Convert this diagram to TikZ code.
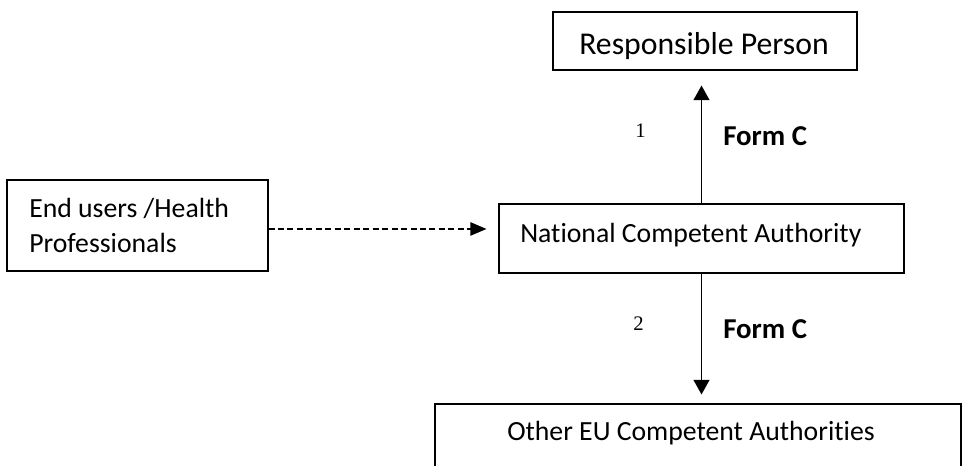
\documentclass[tikz,border=0pt]{standalone}
\usepackage{fontspec}
\setmainfont{Carlito}[Ligatures=NoCommon]
\newfontfamily\numfont{Liberation Serif}
\usetikzlibrary{arrows.meta}

\tikzset{
	box/.style={draw, line width=0.8pt, inner sep=0pt},
	boxtext/.style={font=\fontsize{20.8}{26.25}\selectfont, inner sep=0pt, anchor=base west, align=left},
	formtext/.style={font=\bfseries\fontsize{21.6}{26}\selectfont, inner sep=0pt, anchor=base west},
	numtext/.style={font=\numfont\fontsize{15.5}{18}\selectfont, inner sep=0pt, anchor=base west},
	solidarrow/.style={line width=1pt, -{Triangle[length=11pt, width=12pt]}},
	dashedarrow/.style={line width=0.8pt, dash pattern=on 4.5pt off 2.6pt, -{Triangle[length=12pt, width=10pt]}}
}

\begin{document}
\begin{tikzpicture}[x=0.75pt, y=-0.75pt]

	%Rahmen
	\useasboundingbox (0,0) rectangle (963,465);
	\clip (0,0) rectangle (963,465);

	%boxes
	\node [box, minimum width=228pt, minimum height=43.5pt] (rp) at (705, 41) {};
	\node [box, minimum width=195.75pt, minimum height=68.25pt] (eu) at (137.5, 225.5) {};
	\node [box, minimum width=303.75pt, minimum height=51.75pt] (nca) at (701.5, 238.5) {};
	\node [box, minimum width=394.5pt, minimum height=75pt] (oth) at (698, 454) {};

	%box texts
	\node [boxtext, font=\fontsize{23.8}{28}\selectfont] (rptext) at (579, 54) {Responsible Person};
	\node [boxtext] (eutext) at (29, 252) {End users /Health\\Professionals};
	\node [boxtext] (ncatext) at (520, 242) {National Competent Authority};
	\node [boxtext] (othtext) at (507, 440) {Other EU Competent Authorities};

	%arrows
	\draw [solidarrow, shorten >=11.25pt] (nca.north) -- (nca.north |- rp.south);
	\draw [solidarrow, shorten >=6.75pt] (nca.south) -- (nca.south |- oth.north);
	\draw [dashedarrow, shorten >=9pt] ([yshift=-2.6pt]eu.east) -- ([yshift=-2.6pt]eu.east -| nca.west);

	%labels
	\node [numtext] (one) at (635, 137) {1};
	\node [formtext] (formup) at (723, 145) {Form C};
	\node [numtext] (two) at (633, 330) {2};
	\node [formtext] (formdown) at (723, 338) {Form C};

\end{tikzpicture}
\end{document}
